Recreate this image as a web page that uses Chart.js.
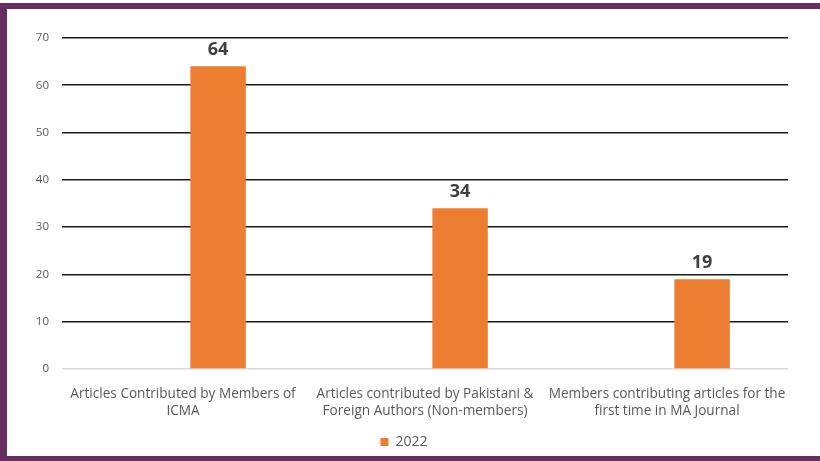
<!DOCTYPE html>
<html>
<head>
<meta charset="utf-8">
<script src="https://cdn.jsdelivr.net/npm/chart.js@4.4.1/dist/chart.umd.min.js"></script>
<style>
  html, body { margin: 0; padding: 0; background: #fff; }
  #wrap { position: relative; width: 820px; height: 461px; overflow: hidden; }
  #chart { position: absolute; left: 0; top: 0; }
  .frame { position: absolute; background: #652f62; }
</style>
</head>
<body>
<div id="wrap">
  <canvas id="chart" width="820" height="461"></canvas>
  <div class="frame" style="left:0;top:3px;width:820px;height:6px"></div>
  <div class="frame" style="left:0;top:3px;width:7px;height:458px"></div>
  <div class="frame" style="left:0;top:456px;width:820px;height:5px"></div>
</div>
<script>
// 数据
const categories = [
  ['Articles Contributed by Members of', 'ICMA'],
  ['Articles contributed by Pakistani &', 'Foreign Authors (Non-members)'],
  ['Members contributing articles for the', 'first time in MA Journal']
];
const seriesLabel = '2022';
const values2022 = [64, 34, 19];
const emptySeries = [null, null, null]; // Excel里空的那一组，占位
const yTicks = [0, 10, 20, 30, 40, 50, 60, 70];

const labelColor = '#595959';
const barColor = '#ed7d31';

// 柱顶数值
const valueLabels = {
  id: 'valueLabels',
  afterDatasetsDraw(chart) {
    const { ctx } = chart;
    const meta = chart.getDatasetMeta(1);
    ctx.save();
    ctx.font = 'bold 18px "Open Sans"';
    ctx.fillStyle = '#404040';
    ctx.textAlign = 'center';
    ctx.textBaseline = 'bottom';
    meta.data.forEach((bar, i) => {
      ctx.fillText(values2022[i], bar.x, bar.y - 7);
    });
    ctx.restore();
  }
};

new Chart(document.getElementById('chart'), {
  type: 'bar',
  data: {
    labels: categories,
    datasets: [
      { label: '', data: emptySeries, backgroundColor: 'transparent' },
      { label: seriesLabel, data: values2022, backgroundColor: barColor }
    ]
  },
  options: {
    responsive: false,
    animation: false,
    categoryPercentage: 0.58,
    barPercentage: 0.79,
    layout: { padding: { left: 20, right: 32, top: 38, bottom: 2 } },
    scales: {
      x: {
        grid: { display: false },
        border: { display: false },
        ticks: { color: labelColor, font: { family: 'Open Sans', size: 13.6, lineHeight: 1.25 }, padding: 9, maxRotation: 0 }
      },
      y: {
        min: 0, max: 70,
        afterBuildTicks: axis => { axis.ticks = yTicks.map(v => ({ value: v })); },
        afterFit: axis => { axis.width = 42; },
        border: { display: false },
        grid: {
          color: c => c.tick && c.tick.value === 0 ? '#d9d9d9' : '#1a1a1a',
          lineWidth: 1.6,
          drawTicks: false
        },
        ticks: { color: labelColor, font: { family: 'Open Sans', size: 11.5 }, padding: 13 }
      }
    },
    plugins: {
      legend: {
        position: 'bottom',
        labels: {
          color: labelColor,
          font: { family: 'Open Sans', size: 14 },
          boxWidth: 8, boxHeight: 8,
          padding: 6,
          filter: item => item.text !== ''
        }
      },
      tooltip: { enabled: false }
    }
  },
  plugins: [valueLabels]
});
</script>
</body>
</html>
